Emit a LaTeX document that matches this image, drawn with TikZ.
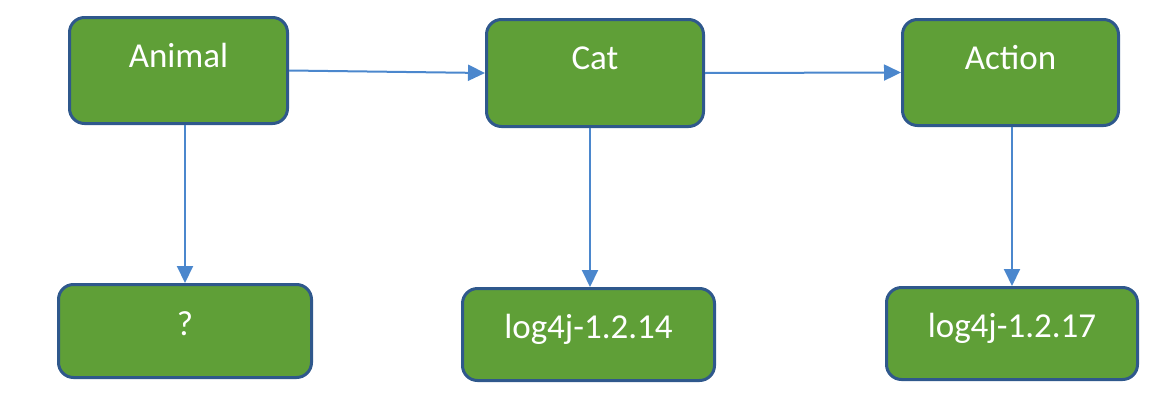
\documentclass[tikz,border=0pt]{standalone}
\usepackage{fontspec}
\setmainfont{Carlito}
\usetikzlibrary{arrows.meta}
\definecolor{boxfill}{RGB}{95,159,55}
\definecolor{boxline}{RGB}{47,88,140}
\definecolor{arrowblue}{RGB}{75,135,205}
\tikzset{
  box/.style={draw=boxline, fill=boxfill, line width=3pt, rounded corners=15pt,
    text=white, font=\fontsize{35}{40}\selectfont, inner sep=0pt},
  topbox/.style={box, text height=9pt, text depth=16pt},
  botbox/.style={box, text height=18pt, text depth=10pt},
  arr/.style={draw=arrowblue, line width=2pt, -{Triangle[length=17pt,width=16pt]}}
}
\begin{document}
\begin{tikzpicture}[x=1pt,y=1pt]
\useasboundingbox (0,0) rectangle (1162,-402);
\node[topbox, minimum width=218pt, minimum height=106pt] (animal) at (178.5,-70.5) {Animal};
\node[topbox, minimum width=217pt, minimum height=107pt] (cat) at (595,-73) {Cat};
\node[topbox, minimum width=216pt, minimum height=106pt] (action) at (1010.5,-72.5) {Action};
\node[botbox, minimum width=253pt, minimum height=93pt] (q) at (185,-331) {?};
\node[botbox, minimum width=252pt, minimum height=92pt] (l14) at (588.5,-334.5) {log4j-1.2.14};
\node[botbox, minimum width=251pt, minimum height=92pt] (l17) at (1012,-333.5) {log4j-1.2.17};
\draw[arr] (animal.east) -- (cat.west);
\draw[arr] (cat.east) -- (action.west);
\draw[arr] (animal.south -| 185,0) -- (q.north -| 185,0);
\draw[arr] (cat.south -| 590,0) -- (l14.north -| 590,0);
\draw[arr] (action.south -| 1012,0) -- (l17.north -| 1012,0);
\end{tikzpicture}
\end{document}
